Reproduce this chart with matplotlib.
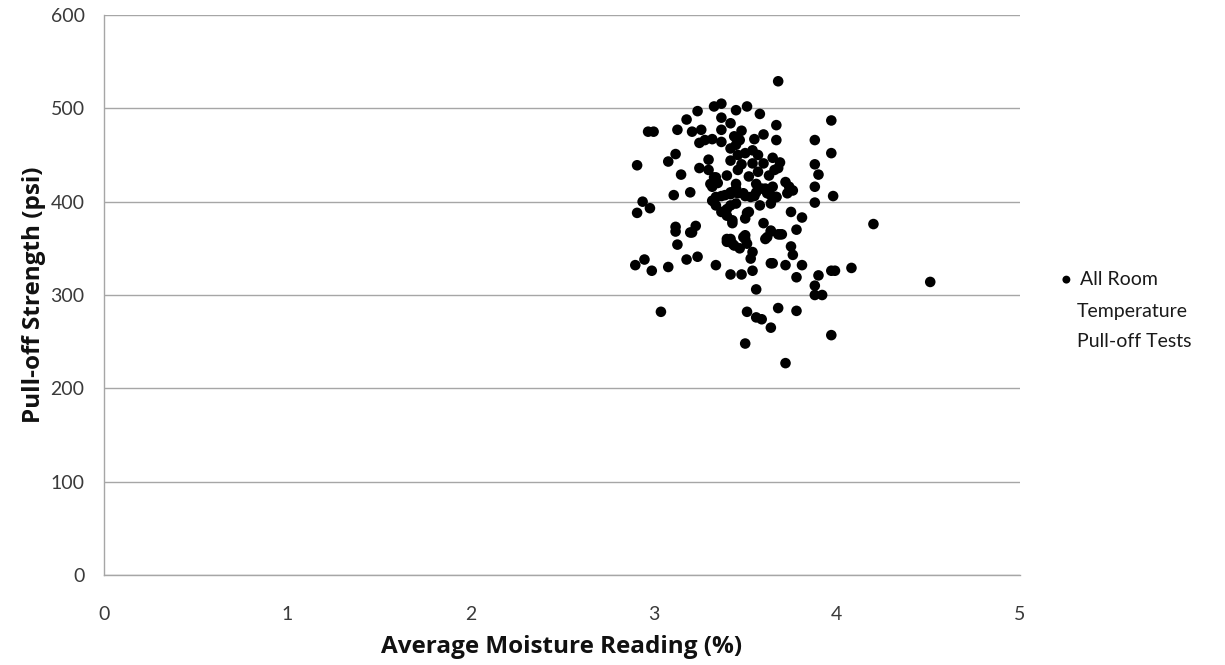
import matplotlib
matplotlib.use("Agg")
import matplotlib.pyplot as plt

# Average moisture reading (%) and pull-off strength (psi)
moisture = [
    3.68, 3.33, 3.37, 3.51, 3.45, 3.24, 3.58, 3.18, 3.37, 3.42,
    3.67, 3.37, 2.97, 3.00, 3.13, 3.21, 3.26, 3.48, 3.55, 3.60,
    3.67, 3.25, 3.28, 3.32, 3.37, 3.42, 3.45, 3.47, 3.54, 3.12,
    3.08, 3.30, 3.42, 3.46, 3.50, 3.54, 3.60, 3.65, 2.91, 3.25,
    3.30, 3.46, 3.15, 3.33, 3.34, 3.40, 3.57, 3.63, 3.66, 3.31,
    3.32, 3.45, 3.52, 3.56, 3.61, 3.65, 3.11, 3.20, 3.37, 3.42,
    3.46, 3.50, 3.55, 3.62, 3.33, 3.34, 2.94, 2.98, 2.91, 3.97,
    3.88, 3.97, 3.69, 3.68, 3.88, 3.90, 3.72, 3.74, 3.76, 3.88,
    3.98, 3.88, 3.67, 3.64, 3.75, 3.81, 3.12, 3.12, 3.20, 3.23,
    3.13, 3.37, 3.40, 3.43, 3.50, 3.51, 3.60, 3.64, 3.61, 3.68,
    3.40, 3.44, 3.47, 3.42, 3.50, 3.50, 3.54, 3.53, 2.90, 2.95,
    2.99, 3.08, 3.18, 3.24, 3.34, 3.42, 3.48, 3.54, 3.64, 3.56,
    3.04, 3.51, 3.56, 3.59, 3.68, 3.64, 3.50, 4.20, 3.64, 3.70,
    3.78, 3.75, 3.76, 3.65, 3.72, 3.81, 3.78, 3.90, 3.97, 3.99,
    4.08, 4.51, 3.88, 3.88, 3.92, 3.78, 3.97, 3.72, 3.32, 3.34,
    3.39, 3.42, 3.45, 3.49, 3.53, 3.56, 3.59, 3.64, 3.67, 3.73,
    3.38, 3.40, 3.43, 3.42, 3.45, 3.52, 3.58, 3.62, 3.21, 3.40,
    3.43, 3.49, 3.51, 3.69, 3.44, 3.48, 3.35, 3.57,
]
strength = [
    529, 502, 505, 502, 498, 497, 494, 488, 490, 484,
    482, 477, 475, 475, 477, 475, 477, 476, 467, 472,
    466, 463, 466, 467, 464, 457, 461, 466, 455, 451,
    443, 445, 444, 450, 452, 441, 441, 447, 439, 436,
    434, 434, 429, 426, 426, 428, 432, 428, 434, 419,
    416, 419, 427, 419, 414, 416, 407, 410, 406, 408,
    409, 406, 406, 409, 400, 396, 400, 393, 388, 487,
    466, 452, 442, 436, 440, 429, 421, 416, 412, 416,
    406, 399, 405, 398, 389, 383, 373, 368, 367, 374,
    354, 389, 385, 377, 382, 388, 377, 369, 360, 365,
    357, 353, 350, 360, 364, 360, 346, 339, 332, 338,
    326, 330, 338, 341, 332, 322, 322, 326, 334, 306,
    282, 282, 276, 274, 286, 265, 248, 376, 368, 365,
    370, 352, 343, 334, 332, 332, 319, 321, 326, 326,
    329, 314, 310, 300, 300, 283, 257, 227, 401, 405,
    407, 410, 414, 409, 405, 410, 414, 407, 405, 409,
    389, 392, 380, 396, 398, 389, 396, 362, 367, 360,
    355, 362, 355, 365, 470, 440, 420, 450,
]

x_ticks = [0, 1, 2, 3, 4, 5]
y_ticks = [0, 100, 200, 300, 400, 500, 600]
series_label = "All Room\nTemperature\nPull-off Tests"

plt.rcParams['font.family'] = ['Lato', 'DejaVu Sans']

fig = plt.figure(figsize=(12.25, 6.65), dpi=100)
ax = fig.add_axes([104 / 1225, 1 - 575 / 665, (1020 - 104) / 1225, (575 - 15) / 665])

ax.scatter(moisture, strength, s=58, color='black', edgecolors='none', zorder=3)

ax.set_xlim(0, 5)
ax.set_ylim(0, 600)
ax.set_xticks(x_ticks)
ax.set_yticks(y_ticks)
ax.tick_params(axis='both', length=0, labelsize=14, colors='#3a3a3a')
ax.tick_params(axis='x', pad=22)
ax.tick_params(axis='y', pad=14)
ax.grid(axis='y', color='#a6a6a6', linewidth=1.0, zorder=0)
ax.set_axisbelow(True)
for side in ['top', 'right']:
    ax.spines[side].set_visible(False)
for side in ['left', 'bottom']:
    ax.spines[side].set_color('#a6a6a6')
    ax.spines[side].set_linewidth(1.0)

label_font = dict(fontsize=17.5, fontweight='bold', family=['Open Sans', 'DejaVu Sans'], color='#111111')
ax.set_xlabel("Average Moisture Reading (%)", labelpad=9, **label_font)
ax.set_ylabel("Pull-off Strength (psi)", labelpad=3, **label_font)

# legend: bullet aligned with the first line
lines = series_label.split("\n")
leg = ax.legend([ax.collections[0]], [lines[0]], loc='upper left',
                bbox_to_anchor=(1045 / 1225, 1 - 261 / 665), bbox_transform=fig.transFigure,
                frameon=False, fontsize=14, handletextpad=0.1, borderpad=0,
                markerscale=0.75, labelcolor='#1a1a1a', handlelength=1.2)
fig.text(1077 / 1225, 1 - 303 / 665, "\n".join(lines[1:]), fontsize=14,
         color='#1a1a1a', va='top', ha='left', linespacing=1.95)

fig.savefig("out.png", dpi=100)
